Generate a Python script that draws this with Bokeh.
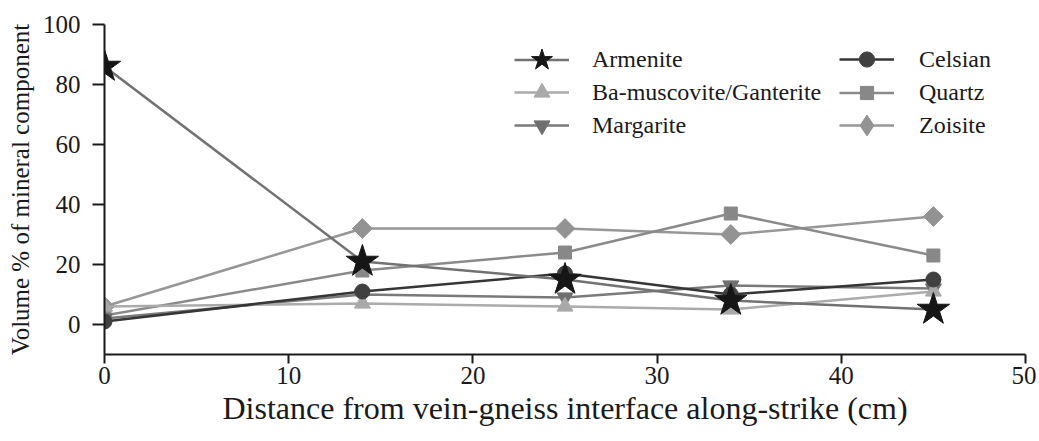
from bokeh.plotting import figure
from bokeh.models import Legend, LegendItem, FixedTicker
from bokeh.embed import file_html
from bokeh.resources import INLINE
import math

# ---- data ----
distance = [0, 14, 25, 34, 45]
armenite = [86, 21, 15, 8, 5]
ba_muscovite = [6, 7, 6, 5, 11]
margarite = [2, 10, 9, 13, 12]
celsian = [1, 11, 17, 10, 15]
quartz = [3, 18, 24, 37, 23]
zoisite = [6, 32, 32, 30, 36]

x_ticks = [0, 10, 20, 30, 40, 50]
y_ticks = [0, 20, 40, 60, 80, 100]

FONT = "'Liberation Serif'"

OFF = 1  # observed page offset of the figure
p = figure(width=1036, height=438, x_range=(0, 50), y_range=(-10, 100),
           output_backend="svg", toolbar_location=None,
           min_border_left=105 - OFF, min_border_right=11,
           min_border_top=25 - OFF, min_border_bottom=84)
p.xgrid.visible = False
p.ygrid.visible = False
p.outline_line_color = None
p.background_fill_color = "white"
p.border_fill_color = "white"

p.xaxis.ticker = FixedTicker(ticks=x_ticks)
p.yaxis.ticker = FixedTicker(ticks=y_ticks)
p.xaxis.axis_label = "Distance from vein-gneiss interface along-strike (cm)"
p.yaxis.axis_label = "Volume % of mineral component"
for ax in (p.xaxis, p.yaxis):
    ax.axis_line_width = 2
    ax.axis_line_color = "#1a1a1a"
    ax.major_tick_line_width = 2
    ax.major_tick_line_color = "#1a1a1a"
    ax.major_tick_in = 0
    ax.minor_tick_out = 0
    ax.minor_tick_in = 0
    ax.major_label_text_font = FONT
    ax.major_label_text_font_size = "25px"
    ax.major_label_text_color = "#1a1a1a"
    ax.axis_label_text_font = FONT
    ax.axis_label_text_font_style = "normal"
    ax.axis_label_text_color = "#1a1a1a"
p.xaxis.major_tick_out = 9
p.yaxis.major_tick_out = 12
p.xaxis.major_label_standoff = 3
p.yaxis.major_label_standoff = 12
p.xaxis.axis_label_text_font_size = "32px"
p.yaxis.axis_label_text_font_size = "25px"
p.xaxis.axis_label_standoff = 3
p.yaxis.axis_label_standoff = 6

series = [
    # name, values, line colour, marker, marker colour, size, angle, legend marker, legend glyph height, col, row
    ("Zoisite", zoisite, "#979797", "square", "#939393", 14, math.pi / 4, "diamond", 52, 1, 2),
    ("Quartz", quartz, "#8a8a8a", "square", "#888888", 13, 0, None, 33, 1, 1),
    ("Margarite", margarite, "#7a7a7a", "inverted_triangle", "#6f6f6f", 16, 0, None, 40, 0, 2),
    ("Ba-muscovite/Ganterite", ba_muscovite, "#ababab", "triangle", "#a9a9a9", 16, 0, None, 40, 0, 1),
    ("Celsian", celsian, "#363636", "circle", "#404040", 15, 0, None, 38, 1, 0),
    ("Armenite", armenite, "#727272", "star", "#161616", 34, 0, None, 55, 0, 0),
]

row_centers = [60, 93, 126]   # page px
col_x = [515, 840]            # page px, left of legend glyph
label_gap = [23, 25]
frame_left, frame_bottom = 105, 355

for name, vals, lc, mk, mc, sz, ang, lmk, gh, col, row in series:
    ln = p.line(distance, vals, line_color=lc, line_width=2.5)
    rends = [ln]
    if lmk is not None:
        # small marker hidden beneath the rotated squares, used for the legend key
        proxy = p.scatter(distance, vals, marker=lmk, size=10, fill_color=mc, line_color=mc)
        rends.append(proxy)
    sc = p.scatter(distance, vals, marker=mk, size=sz, angle=ang,
                   fill_color=mc, line_color=mc)
    if lmk is None:
        rends.append(sc)
    vx = col_x[col] - frame_left
    vy = frame_bottom - (row_centers[row] + gh / 2)
    leg = Legend(items=[LegendItem(label=name, renderers=rends)],
                 location=(vx, vy), glyph_width=55, glyph_height=gh,
                 label_height=20, label_standoff=label_gap[col], padding=0, margin=0,
                 spacing=0, border_line_color=None, background_fill_alpha=0,
                 label_text_font=FONT, label_text_font_size="24px",
                 label_text_color="#1a1a1a")
    p.add_layout(leg)

open("out.html", "w").write(file_html(p, INLINE))
